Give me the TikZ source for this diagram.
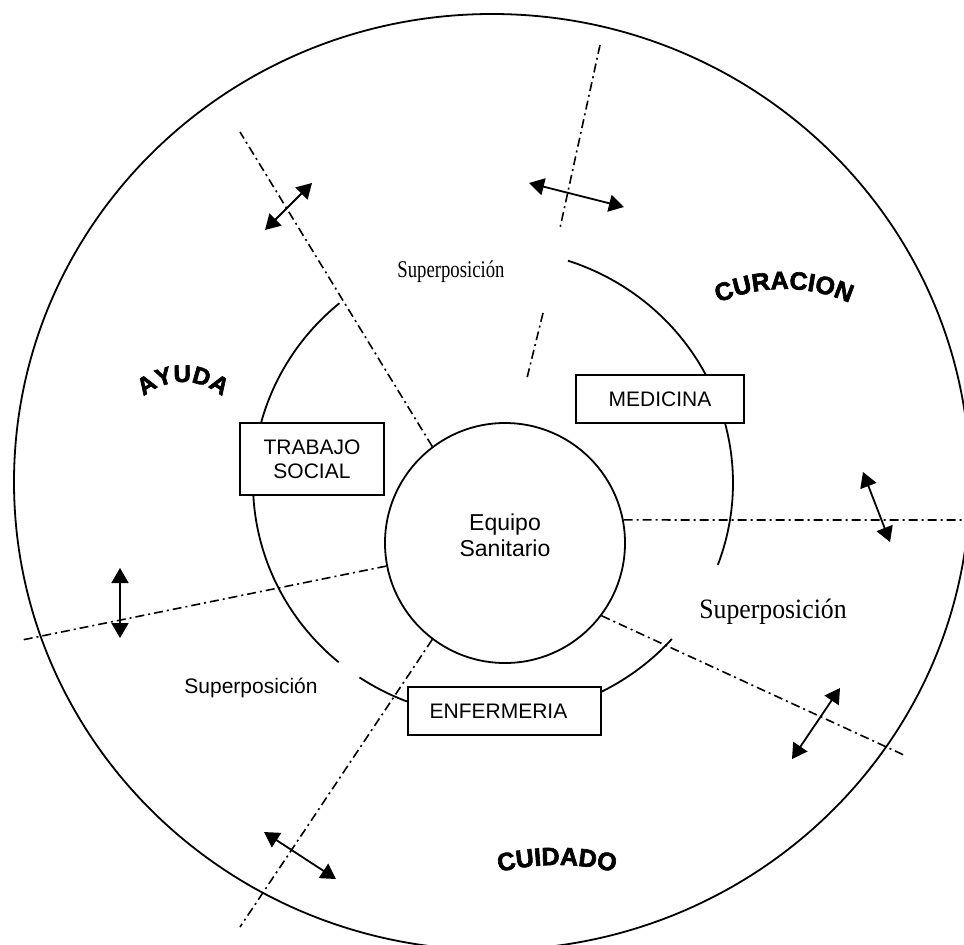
\documentclass[tikz,border=0pt]{standalone}
\usepackage{fontspec}
\setmainfont{Liberation Serif}
\setsansfont{Liberation Sans}
\newfontfamily\wordart{Liberation Sans}[BoldFeatures={FakeBold=2.5}]
\usetikzlibrary{arrows.meta,decorations.text}

\tikzset{
  ln/.style={line width=1.8pt},
  divider/.style={line width=1.6pt, dash pattern=on 9pt off 4pt on 2pt off 4pt},
  twoway/.style={line width=1.8pt, {Triangle[length=15pt,width=17pt]}-{Triangle[length=15pt,width=17pt]}},
  field/.style={draw, line width=1.6pt, fill=white, inner sep=0pt, align=center,
    font=\sffamily\fontsize{21}{24}\selectfont},
  lbl/.style={inner sep=0pt, anchor=base},
  sanslbl/.style={lbl, font=\sffamily\fontsize{21}{24}\selectfont},
  arched/.style={decorate, decoration={text along path, text align=center, text={#1}}},
}

\begin{document}
\begin{tikzpicture}[x=1pt,y=1pt]
\useasboundingbox (0,0) rectangle (964,-945);
\clip (0,0) rectangle (964,-945);
\fill[white] (0,0) rectangle (964,-945);

% outer field
\draw[ln] (492,-482) ellipse [x radius=478, y radius=468];

% middle ring, drawn in three pieces
\coordinate (ring) at (493,-483);
\draw[ln] ([shift={(71.8:240 and 234)}]ring) arc[start angle=71.8, end angle=-20.5, x radius=240, y radius=234];
\draw[ln] ([shift={(-41.8:240 and 234)}]ring) arc[start angle=-41.8, end angle=-123.8, x radius=240, y radius=234];
\draw[ln] ([shift={(230:240 and 234)}]ring) arc[start angle=230, end angle=129.8, x radius=240, y radius=234];

% core team
\node[draw, circle, ln, minimum size=240pt, inner sep=0pt] (core) at (505,-543) {};
\node[lbl, font=\sffamily\fontsize{23}{26}\selectfont] (eq1) at (505,-530) {Equipo};
\node[lbl, font=\sffamily\fontsize{23}{26}\selectfont] (eq2) at (505,-556) {Sanitario};

% dividing lines
\coordinate (l1) at (240,-132);
\coordinate (l2a) at (600,-45);
\coordinate (l2b) at (560,-228);
\coordinate (l2c) at (543,-313);
\coordinate (l2d) at (527,-378);
\coordinate (l3) at (964,-520);
\coordinate (l4) at (906,-756);
\coordinate (l5) at (240,-927);
\coordinate (l6) at (22,-640);
\draw[divider] (core.127) -- (l1);
\draw[divider] (l2a) -- (l2b);
\draw[divider] (l2c) -- (l2d);
\draw[divider] (core.11) -- (l3);
\draw[divider] (core.-37) -- (l4);
\draw[divider] (core.-127) -- (l5);
\draw[divider] (core.-169) -- (l6);

% double arrows across the dividers
\coordinate (d1a) at (265,-230); \coordinate (d1b) at (312,-183);
\coordinate (d2a) at (529,-183); \coordinate (d2b) at (624,-207);
\coordinate (d3a) at (863,-472); \coordinate (d3b) at (890,-542);
\coordinate (d4a) at (840,-688); \coordinate (d4b) at (792,-759);
\coordinate (d5a) at (264,-832); \coordinate (d5b) at (336,-879);
\coordinate (d6a) at (120,-568); \coordinate (d6b) at (120,-638);
\draw[twoway] (d1a) -- (d1b);
\draw[twoway] (d2a) -- (d2b);
\draw[twoway] (d3a) -- (d3b);
\draw[twoway] (d4a) -- (d4b);
\draw[twoway] (d5a) -- (d5b);
\draw[twoway] (d6a) -- (d6b);

% disciplines
\node[field, minimum width=168pt, minimum height=48pt] (med) at (660,-399) {MEDICINA};
\node[field, minimum width=144pt, minimum height=72pt] (ts) at (312,-459) {TRABAJO\\SOCIAL};
\node[field, minimum width=193pt, minimum height=48pt] (enf) at (504.5,-711) {ENFERMERIA\hspace*{12pt}};

% overlap labels
\node[lbl, xscale=0.78, font=\fontsize{24}{26}\selectfont] (sup1) at (451,-277) {Superposición};
\node[lbl, xscale=0.92, font=\fontsize{28}{30}\selectfont] (sup2) at (773,-618) {Superposición};
\node[sanslbl] (sup3) at (251,-693) {Superposición};

% arched titles
\path[arched={|\wordart\bfseries\fontsize{24}{24}\selectfont|AYUDA}]
  ([shift={(150:60)}]183,-442) arc[start angle=150, end angle=30, radius=60];
\path[arched={|\wordart\bfseries\fontsize{25}{25}\selectfont|CURACION}]
  ([shift={(125:161)}]784,-450) arc[start angle=125, end angle=55, radius=161];
\path[arched={|\wordart\bfseries\fontsize{25}{25}\selectfont|CUIDADO}]
  ([shift={(110:241)}]557,-1106) arc[start angle=110, end angle=70, radius=241];
\end{tikzpicture}
\end{document}
